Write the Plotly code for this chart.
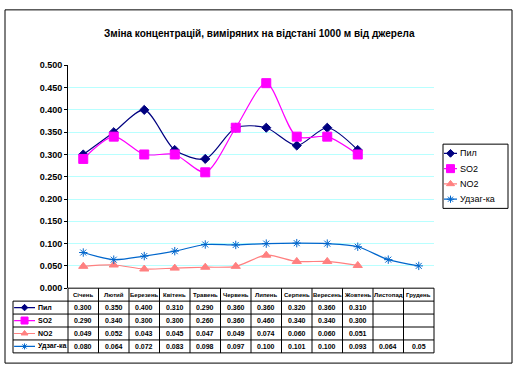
import plotly.graph_objects as go

W, H = 518, 372
months = ["Січень", "Лютий", "Березень", "Квітень", "Травень", "Червень",
          "Липень", "Серпень", "Вересень", "Жовтень", "Листопад", "Грудень"]
series_names = ["Пил", "SO2", "NO2", "Удзаг-ка"]
pyl = [0.300, 0.350, 0.400, 0.310, 0.290, 0.360, 0.360, 0.320, 0.360, 0.310, None, None]
so2 = [0.290, 0.340, 0.300, 0.300, 0.260, 0.360, 0.460, 0.340, 0.340, 0.300, None, None]
no2 = [0.049, 0.052, 0.043, 0.045, 0.047, 0.049, 0.074, 0.060, 0.060, 0.051, None, None]
udz = [0.080, 0.064, 0.072, 0.083, 0.098, 0.097, 0.100, 0.101, 0.100, 0.093, 0.064, 0.05]
table_labels = [["0.300", "0.350", "0.400", "0.310", "0.290", "0.360", "0.360", "0.320", "0.360", "0.310", "", ""],
                ["0.290", "0.340", "0.300", "0.300", "0.260", "0.360", "0.460", "0.340", "0.340", "0.300", "", ""],
                ["0.049", "0.052", "0.043", "0.045", "0.047", "0.049", "0.074", "0.060", "0.060", "0.051", "", ""],
                ["0.080", "0.064", "0.072", "0.083", "0.098", "0.097", "0.100", "0.101", "0.100", "0.093", "0.064", "0.05"]]
title = "Зміна концентрацій, виміряних на відстані 1000 м від джерела"

colors = ["#000080", "#ff00ff", "#ff8080", "#0066cc"]
symbols = ["diamond", "square", "triangle-up", "asterisk-open"]
sizes = [7, 9, 8, 7]
values = [pyl, so2, no2, udz]

FONT = "Liberation Sans"

def px(x):
    return x / W

def py(y):
    return 1 - y / H

# layout geometry (pixels)
X0, X1 = 68, 434
Y_TOP, Y_BOT = 62, 291
T_TOP, T_BOT = 291, 357.5
KEY_X0 = 13
rowh = (T_BOT - T_TOP) / 5
LEG_X0, LEG_X1, LEG_Y0, LEG_Y1 = 443, 508, 143, 209

fig = go.Figure()
xs = list(range(12))
for name, v, c, s, sz in zip(series_names, values, colors, symbols, sizes):
    fig.add_trace(go.Scatter(
        x=xs, y=v, name=name, mode="lines+markers",
        line=dict(color=c, width=1.2, shape="spline", smoothing=0.8),
        marker=dict(symbol=s, size=sz, color=c, line=dict(color=c, width=1)),
        xaxis="x", yaxis="y", cliponaxis=False, showlegend=False,
    ))

# legend keys in table (first column) and in the legend box
for i, (c, s, sz) in enumerate(zip(colors, symbols, sizes)):
    yc = i + 0.5
    fig.add_trace(go.Scatter(
        x=[0.02, 0.4], y=[yc, yc], mode="lines", line=dict(color=c, width=1.2),
        xaxis="x2", yaxis="y2", showlegend=False, hoverinfo="skip"))
    fig.add_trace(go.Scatter(
        x=[0.21], y=[yc], mode="markers",
        marker=dict(symbol=s, size=sz - 2, color=c, line=dict(color=c, width=1)),
        xaxis="x2", yaxis="y2", showlegend=False, hoverinfo="skip"))
    fig.add_trace(go.Scatter(
        x=[1, 14], y=[yc, yc], mode="lines", line=dict(color=c, width=1.2),
        xaxis="x3", yaxis="y3", showlegend=False, hoverinfo="skip"))
    fig.add_trace(go.Scatter(
        x=[7.5], y=[yc], mode="markers",
        marker=dict(symbol=s, size=sz - 1, color=c, line=dict(color=c, width=1)),
        xaxis="x3", yaxis="y3", showlegend=False, hoverinfo="skip"))

shapes = []
# outer border
shapes.append(dict(type="rect", xref="paper", yref="paper", x0=px(5), x1=px(512),
                   y0=py(368), y1=py(5), line=dict(color="black", width=1)))
# legend border
shapes.append(dict(type="rect", xref="paper", yref="paper", x0=px(LEG_X0), x1=px(LEG_X1),
                   y0=py(LEG_Y1), y1=py(LEG_Y0), line=dict(color="black", width=1)))
# table grid
colw = (X1 - X0) / 12
shapes.append(dict(type="line", xref="paper", yref="paper", x0=px(X0), x1=px(X1),
                   y0=py(T_TOP), y1=py(T_TOP), line=dict(color="black", width=1)))
for k in range(1, 6):
    r = T_TOP + k * rowh
    shapes.append(dict(type="line", xref="paper", yref="paper", x0=px(KEY_X0), x1=px(X1),
                       y0=py(r), y1=py(r), line=dict(color="black", width=1)))
shapes.append(dict(type="line", xref="paper", yref="paper", x0=px(KEY_X0), x1=px(KEY_X0),
                   y0=py(T_TOP + rowh), y1=py(T_BOT), line=dict(color="black", width=1)))
for k in range(13):
    xx = X0 + k * colw
    shapes.append(dict(type="line", xref="paper", yref="paper", x0=px(xx), x1=px(xx),
                       y0=py(T_TOP), y1=py(T_BOT), line=dict(color="black", width=1)))

bold7 = dict(family=FONT, size=7, color="black", weight="bold")
bold6 = dict(family=FONT, size=6, color="black", weight="bold")
annotations = []
for i, m in enumerate(months):
    annotations.append(dict(x=i, y=-0.5, xref="x", yref="y2", text=m, showarrow=False, font=bold6))
for r, row in enumerate(table_labels):
    for i, t in enumerate(row):
        if t:
            annotations.append(dict(x=i, y=r + 0.5, xref="x", yref="y2", text=t,
                                    showarrow=False, font=bold7))
    annotations.append(dict(x=0.42, y=r + 0.5, xref="x2", yref="y2", text=series_names[r],
                            showarrow=False, xanchor="left", font=bold7))
    annotations.append(dict(x=15, y=r + 0.5, xref="x3", yref="y3", text=series_names[r],
                            showarrow=False, xanchor="left",
                            font=dict(family=FONT, size=9, color="black")))

annotations.append(dict(x=px(259), y=py(22), xref="paper", yref="paper", text=title,
                        showarrow=False, font=dict(family=FONT, size=10, color="black", weight="bold")))

fig.update_layout(
    width=W, height=H, margin=dict(l=0, r=0, t=0, b=0),
    paper_bgcolor="white", plot_bgcolor="white",
    showlegend=False,
    xaxis=dict(domain=[px(X0), px(X1)], range=[-0.5, 11.5], showticklabels=False,
               showgrid=False, zeroline=False, ticks="", showline=False, anchor="y"),
    yaxis=dict(domain=[py(Y_BOT), py(Y_TOP)], range=[0, 0.5], dtick=0.05, tickformat=".3f",
               showgrid=True, gridcolor="#b8ffff", gridwidth=1, zeroline=False,
               showline=True, linecolor="black", linewidth=1, ticks="outside", ticklen=3,
               tickcolor="black",
               tickfont=dict(family=FONT, size=9, color="black", weight="bold"), anchor="x"),
    xaxis2=dict(domain=[px(KEY_X0), px(X0)], range=[0, 1], visible=False, anchor="y2"),
    yaxis2=dict(domain=[py(T_BOT), py(T_TOP)], range=[4, -1], visible=False, anchor="x2"),
    xaxis3=dict(domain=[px(LEG_X0), px(LEG_X1)], range=[0, LEG_X1 - LEG_X0], visible=False, anchor="y3"),
    yaxis3=dict(domain=[py(LEG_Y1), py(LEG_Y0)], range=[4.1, -0.1], visible=False, anchor="x3"),
    shapes=shapes, annotations=annotations,
)

fig.write_html("out.html", config={"displayModeBar": False},
               post_script="document.body.style.margin='0';")
